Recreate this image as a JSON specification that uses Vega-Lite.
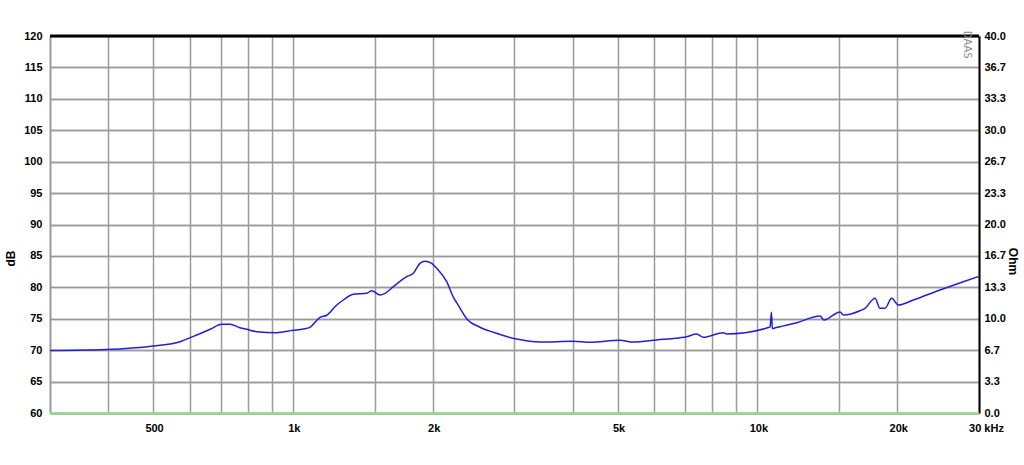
{
  "$schema": "https://vega.github.io/schema/vega-lite/v6.json",
  "width": 929,
  "height": 377,
  "autosize": {"type": "none"},
  "padding": {"left": 50, "top": 36, "right": 45, "bottom": 52},
  "background": "white",
  "config": {
    "view": {"stroke": null},
    "font": "Liberation Sans",
    "axis": {
      "labelFont": "Liberation Sans",
      "labelFontWeight": "bold",
      "labelFontSize": 11,
      "labelColor": "#000000",
      "titleFont": "Liberation Sans",
      "titleFontWeight": "bold",
      "titleFontSize": 12,
      "titleColor": "#000000",
      "ticks": false,
      "labelOverlap": false
    }
  },
  "resolve": {"scale": {"y": "independent"}, "axis": {"y": "independent"}},
  "layer": [
    {
      "data": {"values": [{"db": 60}]},
      "mark": {"type": "rule", "color": "#93dd8f", "strokeWidth": 2},
      "encoding": {
        "y": {
          "field": "db",
          "type": "quantitative",
          "scale": {"domain": [60, 120], "nice": false, "zero": false},
          "axis": {
            "orient": "left",
            "values": [60, 65, 70, 75, 80, 85, 90, 95, 100, 105, 110, 115, 120],
            "grid": true,
            "gridColor": "#9a9a9a",
            "gridWidth": 1.5,
            "domainColor": "#9a9a9a",
            "domainWidth": 2,
            "labelPadding": 8,
            "title": "dB",
            "titleAngle": -90,
            "titleX": -40,
            "titleY": 222,
            "titleAlign": "center",
            "titleBaseline": "middle"
          }
        }
      }
    },
    {
      "data": {"values": [{"db": 120}]},
      "mark": {"type": "rule", "color": "#000000", "strokeWidth": 3},
      "encoding": {
        "y": {"field": "db", "type": "quantitative", "scale": {"domain": [60, 120], "nice": false, "zero": false}, "axis": null}
      }
    },
    {
      "data": {"values": [{"freq": 28200, "db": 118.6, "label": "DAAS"}]},
      "mark": {"type": "text", "angle": 90, "color": "#8a8a8a", "fontSize": 10, "font": "DejaVu Sans"},
      "encoding": {
        "x": {"field": "freq", "type": "quantitative", "scale": {"type": "log", "domain": [300, 30000], "nice": false}},
        "y": {"field": "db", "type": "quantitative", "scale": {"domain": [60, 120], "nice": false, "zero": false}, "axis": null},
        "text": {"field": "label"}
      }
    },
    {
      "data": {
        "values": [
          {"freq": 300, "ohm": 6.63},
          {"freq": 397, "ohm": 6.74},
          {"freq": 501, "ohm": 7.11},
          {"freq": 572, "ohm": 7.56},
          {"freq": 601, "ohm": 8.0},
          {"freq": 621, "ohm": 8.28},
          {"freq": 663, "ohm": 8.88},
          {"freq": 703, "ohm": 9.41},
          {"freq": 732, "ohm": 9.41},
          {"freq": 769, "ohm": 9.05},
          {"freq": 795, "ohm": 8.88},
          {"freq": 836, "ohm": 8.63},
          {"freq": 923, "ohm": 8.52},
          {"freq": 1002, "ohm": 8.77},
          {"freq": 1053, "ohm": 8.91},
          {"freq": 1088, "ohm": 9.09},
          {"freq": 1144, "ohm": 10.15},
          {"freq": 1183, "ohm": 10.37},
          {"freq": 1243, "ohm": 11.46},
          {"freq": 1284, "ohm": 11.99},
          {"freq": 1349, "ohm": 12.59},
          {"freq": 1442, "ohm": 12.7},
          {"freq": 1478, "ohm": 12.98},
          {"freq": 1540, "ohm": 12.52},
          {"freq": 1579, "ohm": 12.7},
          {"freq": 1645, "ohm": 13.4},
          {"freq": 1758, "ohm": 14.46},
          {"freq": 1817, "ohm": 14.82},
          {"freq": 1878, "ohm": 15.88},
          {"freq": 1925, "ohm": 16.1},
          {"freq": 1990, "ohm": 15.88},
          {"freq": 2041, "ohm": 15.35},
          {"freq": 2144, "ohm": 13.93},
          {"freq": 2215, "ohm": 12.3},
          {"freq": 2253, "ohm": 11.7},
          {"freq": 2367, "ohm": 10.0},
          {"freq": 2528, "ohm": 9.1},
          {"freq": 2701, "ohm": 8.56},
          {"freq": 3032, "ohm": 7.85},
          {"freq": 3403, "ohm": 7.53},
          {"freq": 4015, "ohm": 7.61},
          {"freq": 4363, "ohm": 7.5},
          {"freq": 5061, "ohm": 7.71},
          {"freq": 5407, "ohm": 7.53},
          {"freq": 6071, "ohm": 7.75},
          {"freq": 6816, "ohm": 7.99},
          {"freq": 7044, "ohm": 8.1},
          {"freq": 7403, "ohm": 8.38},
          {"freq": 7649, "ohm": 8.03},
          {"freq": 8445, "ohm": 8.52},
          {"freq": 8588, "ohm": 8.38},
          {"freq": 10650, "ohm": 9.12},
          {"freq": 10720, "ohm": 10.7},
          {"freq": 10770, "ohm": 8.95},
          {"freq": 10860, "ohm": 9.0},
          {"freq": 12154, "ohm": 9.58},
          {"freq": 13643, "ohm": 10.29},
          {"freq": 13916, "ohm": 9.87},
          {"freq": 15066, "ohm": 10.72},
          {"freq": 15314, "ohm": 10.4},
          {"freq": 16627, "ohm": 10.85},
          {"freq": 17047, "ohm": 11.11},
          {"freq": 17914, "ohm": 12.17},
          {"freq": 18365, "ohm": 11.11},
          {"freq": 18826, "ohm": 11.11},
          {"freq": 19459, "ohm": 12.17},
          {"freq": 20107, "ohm": 11.46},
          {"freq": 21667, "ohm": 11.99},
          {"freq": 24723, "ohm": 13.05},
          {"freq": 27750, "ohm": 13.93},
          {"freq": 30000, "ohm": 14.5}
        ]
      },
      "mark": {"type": "line", "color": "#2020d6", "strokeWidth": 1.5, "interpolate": "monotone"},
      "encoding": {
        "x": {
          "field": "freq",
          "type": "quantitative",
          "scale": {"type": "log", "domain": [300, 30000], "nice": false},
          "axis": {
            "orient": "bottom",
            "title": null,
            "values": [400, 500, 600, 700, 800, 900, 1000, 1500, 2000, 3000, 4000, 5000, 6000, 7000, 8000, 9000, 10000, 15000, 20000, 30000],
            "labelExpr": "datum.value == 500 ? '500' : datum.value == 1000 ? '1k' : datum.value == 2000 ? '2k' : datum.value == 5000 ? '5k' : datum.value == 10000 ? '10k' : datum.value == 20000 ? '20k' : datum.value == 30000 ? '30 kHz' : ''",
            "labelFlush": false,
            "labelPadding": 9,
            "labelOffset": {"condition": {"test": "datum.value == 30000", "value": 7}, "value": 1},
            "grid": true,
            "gridColor": "#9a9a9a",
            "gridWidth": 1.5,
            "domainColor": "#9a9a9a",
            "domainWidth": 2
          }
        },
        "y": {
          "field": "ohm",
          "type": "quantitative",
          "scale": {"domain": [0, 40], "nice": false},
          "axis": {
            "orient": "right",
            "values": [0, 3.3333, 6.6667, 10, 13.3333, 16.6667, 20, 23.3333, 26.6667, 30, 33.3333, 36.6667, 40],
            "format": ".1f",
            "grid": true,
            "gridColor": "#9a9a9a",
            "gridWidth": 1.5,
            "domainColor": "#000000",
            "domainWidth": 2,
            "labelPadding": 5,
            "title": "Ohm",
            "titleAngle": 90,
            "titleX": 33,
            "titleY": 225,
            "titleAlign": "center",
            "titleBaseline": "middle"
          }
        }
      }
    }
  ]
}
